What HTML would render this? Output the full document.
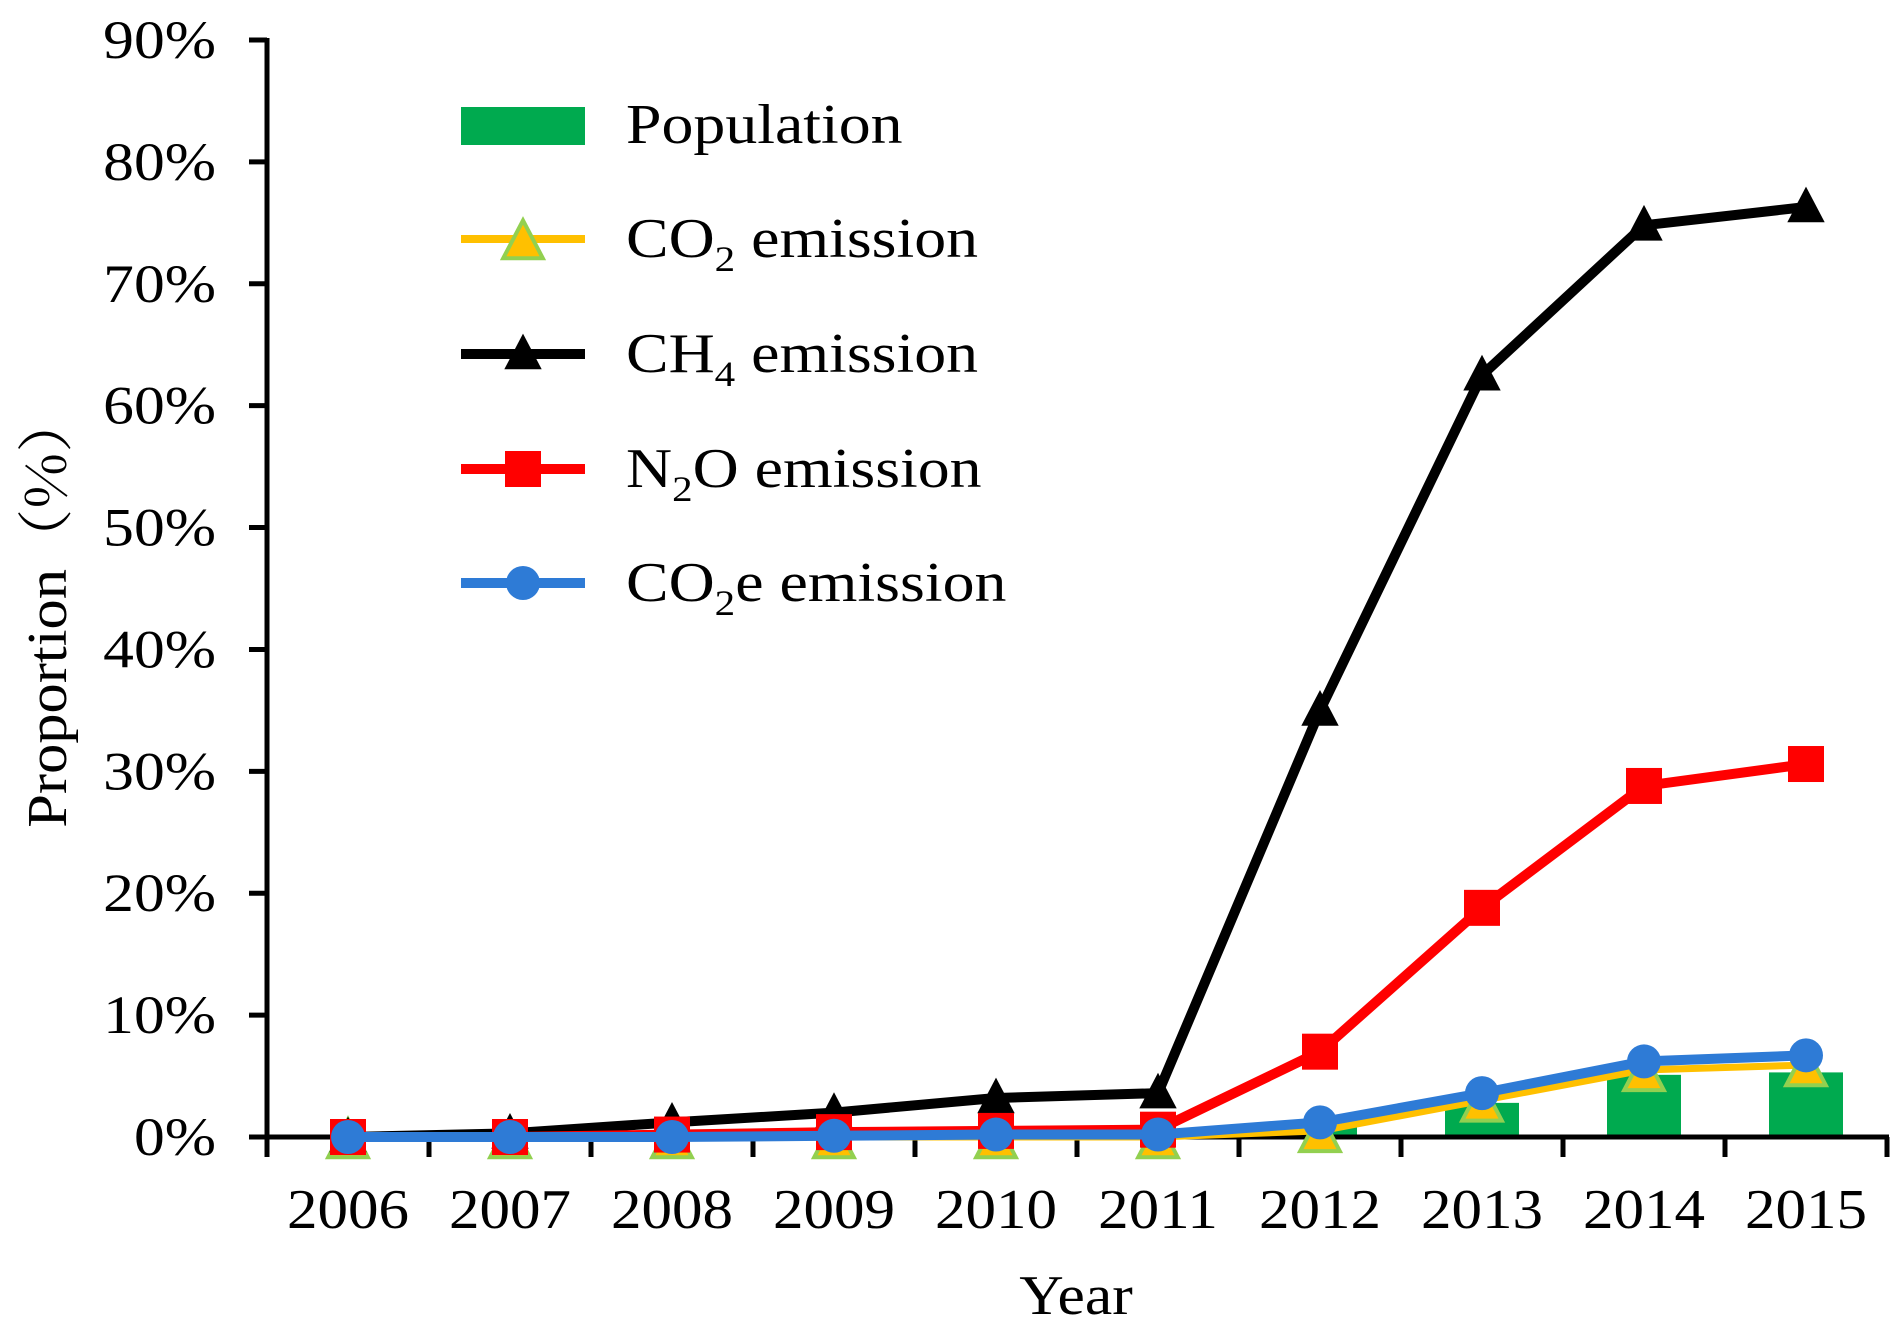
<!DOCTYPE html>
<html><head><meta charset="utf-8"><style>
html,body{margin:0;padding:0;background:#fff;}
svg{display:block;font-family:"Liberation Serif",serif;}
</style></head><body>
<svg id="chart" width="1902" height="1337" viewBox="0 0 1902 1337"></svg>
<script>
const categories=["2006","2007","2008","2009","2010","2011","2012","2013","2014","2015"];
const population=[0,0,0,0,0,0,0.8,2.8,5.1,5.3];
const co2=[0,0,0,0,0,0,0.5,3.0,5.5,5.9];
const ch4=[0,0.3,1.2,2.0,3.2,3.6,35,62.5,74.8,76.3];
const n2o=[0,0,0.2,0.4,0.5,0.6,7.0,18.8,28.8,30.6];
const co2e=[0,0,0,0.1,0.2,0.2,1.2,3.6,6.2,6.7];
const yTicks=[0,10,20,30,40,50,60,70,80,90];
const yTickLabels=["0%","10%","20%","30%","40%","50%","60%","70%","80%","90%"];

const NS="http://www.w3.org/2000/svg";
const svg=document.getElementById('chart');
const L=267,R=1887,T=40,B=1137,YMAX=90;
const step=(R-L)/categories.length;
function xs(i){return L+step*(i+0.5);}
function ys(v){return B-(B-T)*v/YMAX;}
function mk(tag,attrs,parent){const e=document.createElementNS(NS,tag);for(const k in attrs)e.setAttribute(k,attrs[k]);(parent||svg).appendChild(e);return e;}
function stext(x,y,sx,attrs,parent){const g=mk('g',{transform:`translate(${x},${y}) scale(${sx},1)`},parent);attrs.x=0;attrs.y=0;return mk('text',attrs,g);}

// bars
population.forEach((v,i)=>{
  const r=mk('rect',{x:xs(i)-37,y:ys(v),width:74,height:B-ys(v),fill:'#00AA4F'});
  
  
});

// axes
const ax=mk('g',{stroke:'#000','stroke-width':5});


mk('line',{x1:L,y1:T-2,x2:L,y2:B+20},ax);
mk('line',{x1:L-18,y1:B,x2:R+2,y2:B},ax);
yTicks.forEach(t=>{mk('line',{x1:L-18,y1:ys(t),x2:L,y2:ys(t)},ax);});
for(let i=1;i<=categories.length;i++){mk('line',{x1:L+step*i,y1:B,x2:L+step*i,y2:B+20},ax);}

yTicks.forEach((t,i)=>{
  const tx=stext(216,ys(t)+18,1.14,{'text-anchor':'end','font-size':54});
  tx.textContent=yTickLabels[i];
  
  
});
categories.forEach((c,i)=>{
  const tx=stext(xs(i),1228,1.09,{'text-anchor':'middle','font-size':56});
  tx.textContent=c;
  
  
});
const yt=mk('text',{x:0,y:0,'text-anchor':'middle','font-size':56,transform:'translate(66,610) rotate(-90) scale(1.08,1)'});
yt.innerHTML='Proportion<tspan font-family="Noto Serif CJK SC, serif">（%）</tspan>';


const xt=stext(1076,1314,1.1,{'text-anchor':'middle','font-size':56});
xt.textContent='Year';



function tri(g,cx,cy,s,fill,stroke){mk('polygon',{points:`${cx},${cy-s*0.6} ${cx-s*0.55},${cy+s*0.45} ${cx+s*0.55},${cy+s*0.45}`,fill:fill,stroke:stroke||'none','stroke-width':4},g);}
function series(vals,color,name,marker){
  const g=mk('g',{});
  
  
  mk('polyline',{points:vals.map((v,i)=>xs(i)+','+ys(v)).join(' '),fill:'none',stroke:color,'stroke-width':marker==='tri-o'?7:10,'stroke-linejoin':'round'},g);
  vals.forEach((v,i)=>{
    const cx=xs(i),cy=ys(v);
    if(marker==='tri-o')tri(g,cx,cy+4,36,'#FFC000','#92D050');
    else if(marker==='tri')tri(g,cx,cy,34,'#000');
    else if(marker==='sq')mk('rect',{x:cx-18,y:cy-18,width:36,height:36,fill:'#FF0000'},g);
    else mk('circle',{cx:cx,cy:cy,r:17,fill:'#2E7BD6'},g);
  });
}
series(co2,'#FFC000','co2-series','tri-o');
series(ch4,'#000000','ch4-series','tri');
series(n2o,'#FF0000','n2o-series','sq');
series(co2e,'#2E7BD6','co2e-series','circ');

// legend
const lg=mk('g',{});


const legY=[125,239,354,469,583];
const legLabels=['Population','CO<tspan font-size="36" dy="14">2</tspan><tspan dy="-14"> emission</tspan>','CH<tspan font-size="36" dy="14">4</tspan><tspan dy="-14"> emission</tspan>','N<tspan font-size="36" dy="14">2</tspan><tspan dy="-14">O emission</tspan>','CO<tspan font-size="36" dy="14">2</tspan><tspan dy="-14">e emission</tspan>'];
mk('rect',{x:461,y:107,width:124,height:38,fill:'#00AA4F'},lg);
mk('line',{x1:461,y1:legY[1],x2:585,y2:legY[1],stroke:'#FFC000','stroke-width':8},lg); tri(lg,523,legY[1]+3,36,'#FFC000','#92D050');
mk('line',{x1:461,y1:legY[2],x2:585,y2:legY[2],stroke:'#000','stroke-width':10},lg); tri(lg,523,legY[2],34,'#000');
mk('line',{x1:461,y1:legY[3],x2:585,y2:legY[3],stroke:'#FF0000','stroke-width':10},lg); mk('rect',{x:505,y:legY[3]-18,width:36,height:36,fill:'#FF0000'},lg);
mk('line',{x1:461,y1:legY[4],x2:585,y2:legY[4],stroke:'#2E7BD6','stroke-width':10},lg); mk('circle',{cx:523,cy:legY[4],r:17,fill:'#2E7BD6'},lg);
legLabels.forEach((t,i)=>{
  const tx=stext(626,legY[i]+18,1.14,{'font-size':56},lg);
  tx.innerHTML=t;
  
  
});
</script>
</body></html>
